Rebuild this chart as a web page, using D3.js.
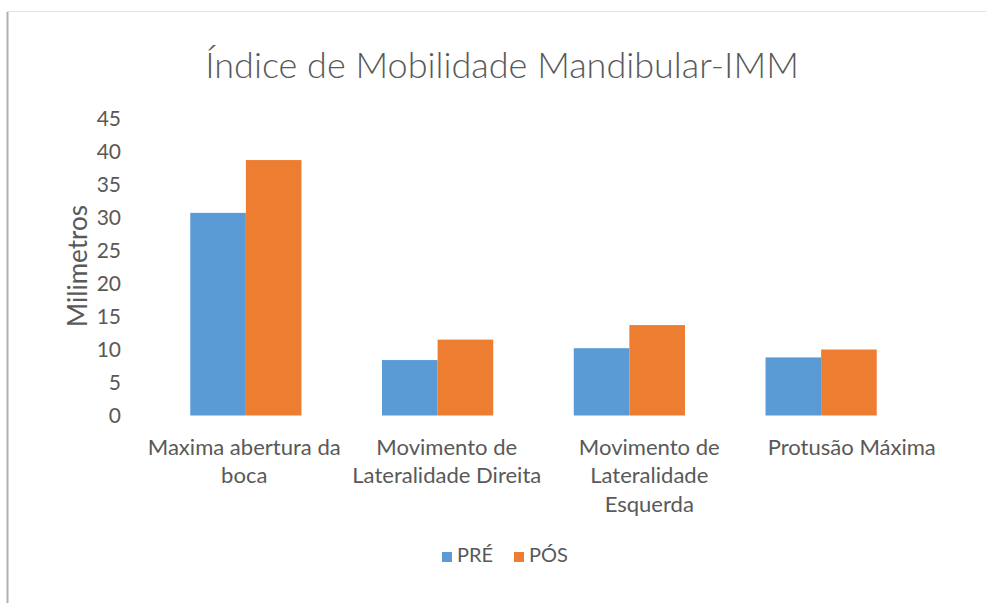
<!DOCTYPE html>
<html lang="pt">
  <head>
    <meta charset="UTF-8" />
    <title>Índice de Mobilidade Mandibular-IMM</title>
    <script src="https://cdnjs.cloudflare.com/ajax/libs/d3/7.8.5/d3.min.js"></script>
    <style>
      body {
        margin: 0;
        background: #fff;
      }
      text {
        font-family: "Lato", "Open Sans", sans-serif;
        fill: #595959;
      }
      .axis line,
      .axis path {
        display: none;
      }
    </style>
  </head>
  <body>
    <div id="chart"></div>
    <script>
      // data
      const categories = [
        ["Maxima abertura da", "boca"],
        ["Movimento de", "Lateralidade Direita"],
        ["Movimento de", "Lateralidade", "Esquerda"],
        ["Protusão Máxima"],
      ];
      const series = ["PRÉ", "PÓS"];
      const preValues = [30.7, 8.4, 10.2, 8.8];
      const posValues = [38.7, 11.5, 13.7, 10.0];
      const yTicks = [0, 5, 10, 15, 20, 25, 30, 35, 40, 45];

      const W = 986,
        H = 603;
      const plot = { left: 150, right: 917, top: 118.5, bottom: 415.5 };

      const svg = d3
        .select("#chart")
        .append("svg")
        .attr("width", W)
        .attr("height", H);

      // frame
      svg
        .append("rect")
        .attr("x", 7.5)
        .attr("y", 11.5)
        .attr("width", W)
        .attr("height", H)
        .attr("fill", "#fff")
        .attr("stroke", "#e3e3e3");
      svg
        .append("line")
        .attr("x1", 7.5)
        .attr("x2", 7.5)
        .attr("y1", 12)
        .attr("y2", H)
        .attr("stroke", "#b0b0b0")
        .attr("stroke-width", 2);

      const keys = categories.map((d) => d.join(" "));
      const x0 = d3
        .scaleBand()
        .domain(keys)
        .range([plot.left, plot.right])
        .paddingInner(0.42)
        .paddingOuter(0.21);
      // labels sit a bit wider apart than the bars in the original picture
      const xLabel = d3.scaleBand().domain(keys).range([143, 953]);
      const x1 = d3.scaleBand().domain(series).range([0, x0.bandwidth()]);
      const y = d3.scaleLinear().domain([0, 45]).range([plot.bottom, plot.top]);
      const color = d3.scaleOrdinal().domain(series).range(["#5b9bd5", "#ed7d31"]);

      const rows = keys.map((k, i) => ({
        key: k,
        vals: [
          { s: "PRÉ", v: preValues[i] },
          { s: "PÓS", v: posValues[i] },
        ],
      }));

      // bars
      svg
        .append("g")
        .selectAll("g")
        .data(rows)
        .join("g")
        .attr("transform", (d) => `translate(${x0(d.key)},0)`)
        .selectAll("rect")
        .data((d) => d.vals)
        .join("rect")
        .attr("x", (d) => x1(d.s))
        .attr("y", (d) => y(d.v))
        .attr("width", x1.bandwidth())
        .attr("height", (d) => y(0) - y(d.v))
        .attr("fill", (d) => color(d.s));

      // y axis
      const yAxis = svg
        .append("g")
        .attr("class", "axis")
        .attr("transform", `translate(121,0)`)
        .call(d3.axisLeft(y).tickValues(yTicks).tickSize(0).tickPadding(0));
      yAxis
        .selectAll("text")
        .style("font-size", "21px")
        .style("font-family", "Lato, sans-serif")
        .attr("fill", "#595959");

      // x labels (slightly stretched, as in the original)
      const xl = svg
        .append("g")
        .selectAll("text")
        .data(categories)
        .join("text")
        .attr(
          "transform",
          (d, i) =>
            `translate(${xLabel(keys[i]) + xLabel.bandwidth() / 2},455) scale(1.05,1)`
        )
        .attr("text-anchor", "middle")
        .style("font-size", "21px");
      xl.selectAll("tspan")
        .data((d) => d)
        .join("tspan")
        .attr("x", 0)
        .attr("dy", (d, i) => (i === 0 ? 0 : 28.5))
        .text((d) => d);

      // y title
      svg
        .append("text")
        .attr("transform", `translate(87,266) rotate(-90)`)
        .attr("text-anchor", "middle")
        .style("font-size", "26px")
        .text("Milimetros");

      // title
      svg
        .append("text")
        .attr("x", 502)
        .attr("y", 78)
        .attr("text-anchor", "middle")
        .style("font-size", "36px")
        .style("font-weight", 300)
        .text("Índice de Mobilidade Mandibular-IMM");

      // legend
      const legend = svg
        .append("g")
        .selectAll("g")
        .data(series)
        .join("g")
        .attr("transform", (d, i) => `translate(${442 + i * 72},552)`);
      legend
        .append("rect")
        .attr("width", 10)
        .attr("height", 10)
        .attr("fill", (d) => color(d));
      legend
        .append("text")
        .attr("x", 15)
        .attr("y", 10)
        .style("font-size", "20px")
        .text((d) => d);
    </script>
  </body>
</html>
